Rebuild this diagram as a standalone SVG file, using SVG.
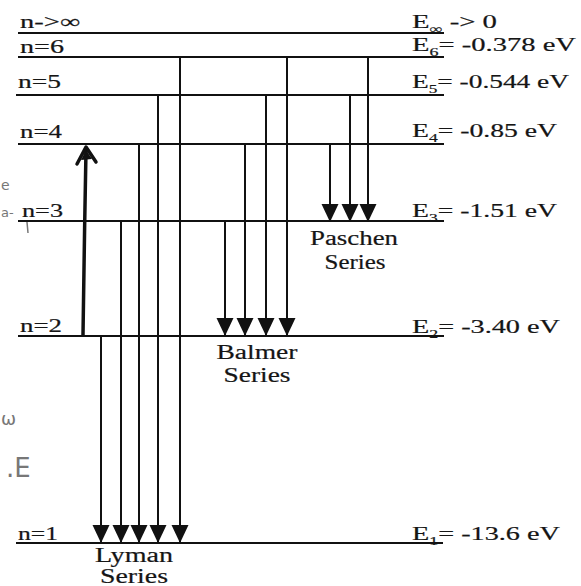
<svg xmlns="http://www.w3.org/2000/svg" width="581" height="586" viewBox="0 0 581 586">
  <style>
    .lvl { stroke: #111; stroke-width: 2; fill: none; }
    .tr { stroke: #111; stroke-width: 2; fill: none; marker-end: url(#ah); }
    .t { font-family: "Liberation Serif", "Times New Roman", serif; font-size: 19px; fill: #151515; stroke: #151515; stroke-width: 0.2; }
    .sub { font-size: 12px; }
    .ser { font-family: "Liberation Serif", "Times New Roman", serif; font-size: 20px; fill: #151515; stroke: #151515; stroke-width: 0.2; text-anchor: middle; }
    .hand { font-family: "DejaVu Sans", sans-serif; fill: #777; }
  </style>
  <defs>
    <marker id="ah" markerUnits="userSpaceOnUse" markerWidth="20" markerHeight="20" viewBox="0 -10 19 20" refX="18" refY="0" orient="auto">
      <path d="M0,-8.5 L18,0 L0,8.5 Z" fill="#111"/>
    </marker>
  </defs>
  <rect width="581" height="586" fill="#fff"/>

  <g id="level-inf">
    <line class="lvl" x1="18" y1="33" x2="444" y2="33"/>
    <text class="t" x="20" y="28" textLength="60" lengthAdjust="spacingAndGlyphs">n-&gt;∞</text>
    <text class="t" x="412" y="28" textLength="85" lengthAdjust="spacingAndGlyphs">E<tspan class="sub" dy="5">∞</tspan><tspan dy="-5"> -&gt; 0</tspan></text>
  </g>
  <g id="level-6">
    <line class="lvl" x1="18" y1="57" x2="444" y2="57"/>
    <text class="t" x="20" y="53" textLength="44" lengthAdjust="spacingAndGlyphs">n=6</text>
    <text class="t" x="412" y="51" textLength="164" lengthAdjust="spacingAndGlyphs">E<tspan class="sub" dy="5">6</tspan><tspan dy="-5">= -0.378 eV</tspan></text>
  </g>
  <g id="level-5">
    <line class="lvl" x1="16" y1="95" x2="444" y2="95"/>
    <text class="t" x="18" y="88" textLength="43" lengthAdjust="spacingAndGlyphs">n=5</text>
    <text class="t" x="412" y="88" textLength="157" lengthAdjust="spacingAndGlyphs">E<tspan class="sub" dy="5">5</tspan><tspan dy="-5">= -0.544 eV</tspan></text>
  </g>
  <g id="level-4">
    <line class="lvl" x1="18" y1="144" x2="444" y2="144"/>
    <text class="t" x="20" y="138" textLength="42" lengthAdjust="spacingAndGlyphs">n=4</text>
    <text class="t" x="412" y="137" textLength="145" lengthAdjust="spacingAndGlyphs">E<tspan class="sub" dy="5">4</tspan><tspan dy="-5">= -0.85 eV</tspan></text>
  </g>
  <g id="level-3">
    <line class="lvl" x1="18" y1="221" x2="444" y2="221"/>
    <text class="t" x="22" y="217" textLength="41" lengthAdjust="spacingAndGlyphs">n=3</text>
    <text class="t" x="412" y="217" textLength="145" lengthAdjust="spacingAndGlyphs">E<tspan class="sub" dy="5">3</tspan><tspan dy="-5">= -1.51 eV</tspan></text>
  </g>
  <g id="level-2">
    <line class="lvl" x1="18" y1="336" x2="444" y2="336"/>
    <text class="t" x="20" y="332" textLength="42" lengthAdjust="spacingAndGlyphs">n=2</text>
    <text class="t" x="412" y="333" textLength="148" lengthAdjust="spacingAndGlyphs">E<tspan class="sub" dy="5">2</tspan><tspan dy="-5">= -3.40 eV</tspan></text>
  </g>
  <g id="level-1">
    <line class="lvl" x1="16" y1="543" x2="443" y2="543"/>
    <text class="t" x="18" y="540" textLength="40" lengthAdjust="spacingAndGlyphs">n=1</text>
    <text class="t" x="412" y="540" textLength="148" lengthAdjust="spacingAndGlyphs">E<tspan class="sub" dy="5">1</tspan><tspan dy="-5">= -13.6 eV</tspan></text>
  </g>

  <g id="connectors">
    <!-- Lyman -->
    <line class="tr" x1="101" y1="336" x2="101" y2="543"/>
    <line class="tr" x1="121" y1="221" x2="121" y2="543"/>
    <line class="tr" x1="139" y1="144" x2="139" y2="543"/>
    <line class="tr" x1="158" y1="95" x2="158" y2="543"/>
    <line class="tr" x1="180" y1="57" x2="180" y2="543"/>
    <!-- Balmer -->
    <line class="tr" x1="225" y1="221" x2="225" y2="336"/>
    <line class="tr" x1="245" y1="144" x2="245" y2="336"/>
    <line class="tr" x1="266" y1="95" x2="266" y2="336"/>
    <line class="tr" x1="287" y1="57" x2="287" y2="336"/>
    <!-- Paschen -->
    <line class="tr" x1="330" y1="144" x2="330" y2="222"/>
    <line class="tr" x1="350" y1="95" x2="350" y2="222"/>
    <line class="tr" x1="368" y1="57" x2="368" y2="222"/>
    <!-- hand-drawn upward arrow n=2 to n=4 -->
    <path d="M83,335 C83.5,280 85,210 86,150" stroke="#111" stroke-width="3.5" fill="none"/>
    <path d="M77,164 L86,147 L96,162" stroke="#111" stroke-width="3.5" fill="none" stroke-linejoin="round" stroke-linecap="round"/>
    <path d="M81,160 L86,150 L92,159 Z" fill="#111"/>
  </g>

  <g id="label-paschen">
    <text class="ser" x="354" y="245" textLength="88" lengthAdjust="spacingAndGlyphs">Paschen</text>
    <text class="ser" x="355" y="269" textLength="61" lengthAdjust="spacingAndGlyphs">Series</text>
  </g>
  <g id="label-balmer">
    <text class="ser" x="257" y="359" textLength="81" lengthAdjust="spacingAndGlyphs">Balmer</text>
    <text class="ser" x="257" y="382" textLength="67" lengthAdjust="spacingAndGlyphs">Series</text>
  </g>
  <g id="label-lyman">
    <text class="ser" x="134" y="562" textLength="78" lengthAdjust="spacingAndGlyphs">Lyman</text>
    <text class="ser" x="134" y="583" textLength="68" lengthAdjust="spacingAndGlyphs">Series</text>
  </g>

  <g id="handwriting">
    <text class="hand" x="1" y="190" font-size="14">e</text>
    <text class="hand" x="1" y="217" font-size="13">a-</text>
    <path d="M27,222 L28,233" stroke="#777" stroke-width="1.5" fill="none"/>
    <text class="hand" x="1" y="425" font-size="18">ω</text>
    <text class="hand" x="6" y="477" font-size="26">.E</text>
  </g>
</svg>
